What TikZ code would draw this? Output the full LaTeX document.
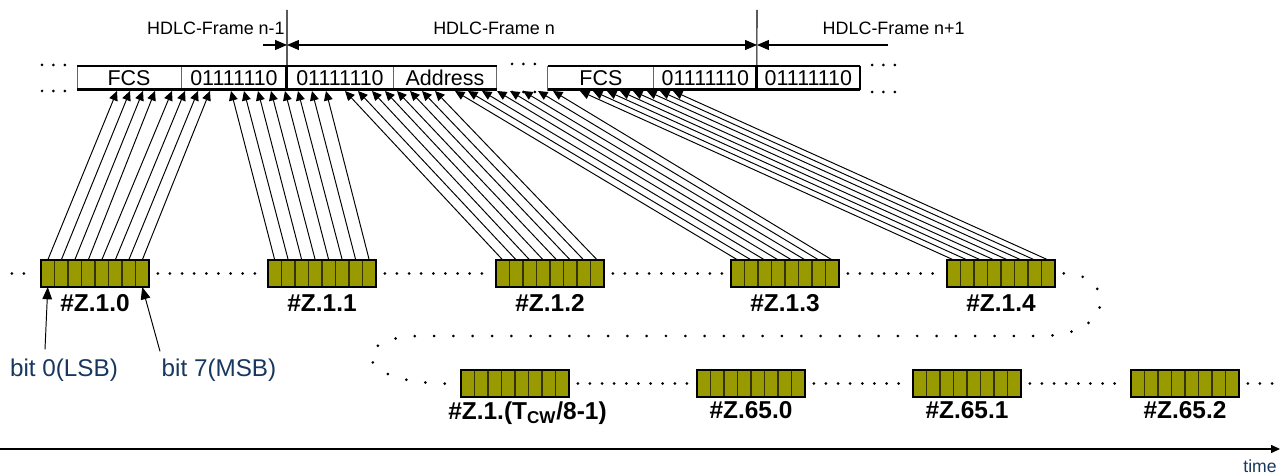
\documentclass[tikz,border=0pt]{standalone}
\usepackage{fontspec}
\setmainfont{Liberation Sans}
\usetikzlibrary{arrows.meta,positioning,calc}
\definecolor{Olive}{HTML}{999900}
\definecolor{CellEdge}{HTML}{333300}
\definecolor{Navy}{HTML}{17375E}
\definecolor{Grey60}{HTML}{666666}

\begin{document}
\begin{tikzpicture}[x=0.02cm, y=-0.02cm,
    field/.style={draw=Grey60, line width=0.5pt, minimum height=0.48cm, inner sep=0pt, outer sep=0pt, font=\fontsize{12.2}{13}\selectfont},
    cell/.style={draw=CellEdge, fill=Olive, line width=0.6pt, minimum width=0.27cm, minimum height=0.54cm, inner sep=0pt, outer sep=0pt},
    bytelabel/.style={font=\fontsize{13.9}{15}\selectfont\bfseries, inner sep=0pt},
    framelabel/.style={font=\fontsize{10.2}{12}\selectfont, inner sep=0pt},
    note/.style={font=\fontsize{13.8}{15}\selectfont, text=Navy, inner sep=0pt},
    bitarrow/.style={-{Triangle[length=5.4pt,width=5pt]}, line width=0.55pt},
    dimline/.style={line width=0.6pt},
    dimarrow/.style={dimline, -{Triangle[length=6.8pt,width=5.7pt]}},
    frameline/.style={line width=1.7pt},
    dots/.style={line width=1.7pt, line cap=round, dash pattern=on 0pt off #1, shorten <=5pt, shorten >=4pt},
    dots/.default=6.9pt,
  ]
  \useasboundingbox (0,0) rectangle (1280,475);

  % frame fields
  \node[field, minimum width=2.08cm] (fcsA) at (129,78) {FCS};
  \node[field, minimum width=2.12cm, right=0pt of fcsA] (flagA) {01111110};
  \node[field, minimum width=2.12cm, right=0pt of flagA] (flagB) {01111110};
  \node[field, minimum width=2.08cm, right=0pt of flagB] (addr) {Address};
  \node[field, minimum width=2.12cm, right=1.02cm of addr] (fcsB) {FCS};
  \node[field, minimum width=2.06cm, right=0pt of fcsB] (flagC) {01111110};
  \node[field, minimum width=2.06cm, right=0pt of flagC] (flagD) {01111110};

  \draw[frameline] (fcsA.north west) -- (addr.north east);
  \draw[frameline] (fcsA.south west) -- (addr.south east);
  \draw[frameline] (fcsB.north west) -- (flagD.north east);
  \draw[frameline] (fcsB.south west) -- (flagD.south east);
  \draw[frameline] (flagA.south east) -- (flagA.north east);
  \draw[frameline] (flagC.south east) -- (flagC.north east);
  \draw[line width=1.2pt] (flagD.south east) -- (flagD.north east);

  \draw[dots=6.5pt, shorten <=0pt, shorten >=0pt] (42,65) -- (66,65);
  \draw[dots=6.5pt, shorten <=0pt, shorten >=0pt] (42,91) -- (66,91);
  \draw[dots=6.5pt, shorten <=0pt, shorten >=0pt] (512,64) -- (536,64);
  \draw[dots=6.5pt, shorten <=0pt, shorten >=0pt] (512,92) -- (536,92);
  \draw[dots=6.5pt, shorten <=0pt, shorten >=0pt] (872,65) -- (896,65);
  \draw[dots=6.5pt, shorten <=0pt, shorten >=0pt] (872,92) -- (896,92);

  % frame borders and lengths
  \coordinate (splitA) at (287,10);
  \coordinate (splitB) at (757,10);
  \draw[dimline] (flagA.north east) -- (splitA);
  \draw[dimline] (flagC.north east) -- (splitB);
  \coordinate (dimL) at (263,45);
  \coordinate (dimA) at (287,45);
  \coordinate (dimB) at (757,45);
  \coordinate (dimR) at (888,45);
  \draw[dimarrow] (dimL) -- (dimA);
  \draw[dimarrow, {Triangle[length=6.8pt,width=5.7pt]}-{Triangle[length=6.8pt,width=5.7pt]}] (dimA) -- (dimB);
  \draw[dimarrow, {Triangle[length=6.8pt,width=5.7pt]}-] (dimB) -- (dimR);
  \node[framelabel, anchor=east] (lblA) at (285,28) {HDLC-Frame n-1};
  \node[framelabel] (lblB) at (494,28) {HDLC-Frame n};
  \node[framelabel, anchor=east] (lblC) at (965,28) {HDLC-Frame n+1};

  % bytes
  \foreach \b/\x/\y in {zA/41/273.5, zB/268/273.5, zC/496/273.5, zD/731/273.5, zE/947/273.5,
                        zT/461/383.5, zF/697/383.5, zG/913/383.5, zH/1131/383.5} {
    \foreach \i in {0,...,7}
      \node[cell] (\b-\i) at ({\x+13.5*\i+6.75},\y) {};
    \draw[line width=0.8pt] (\b-0.north west) rectangle (\b-7.south east);
  }

  \node[bytelabel, below=0.15cm of zA-3.south east] (lA) {\#Z.1.0};
  \node[bytelabel, below=0.15cm of zB-3.south east] (lB) {\#Z.1.1};
  \node[bytelabel, below=0.15cm of zC-3.south east] (lC) {\#Z.1.2};
  \node[bytelabel, below=0.15cm of zD-3.south east] (lD) {\#Z.1.3};
  \node[bytelabel, below=0.15cm of zE-3.south east] (lE) {\#Z.1.4};
  \node[bytelabel, below=0.09cm of zT-3.south east, xshift=0.25cm] (lT) {\#Z.1.(T\textsubscript{CW}/8-1)};
  \node[bytelabel, below=0.09cm of zF-3.south east] (lF) {\#Z.65.0};
  \node[bytelabel, below=0.09cm of zG-3.south east] (lG) {\#Z.65.1};
  \node[bytelabel, below=0.09cm of zH-3.south east] (lH) {\#Z.65.2};

  % bits into the frame
  \foreach \t [count=\k from 0] in {117,130,143,155,172,185,198,210} {
    \coordinate (zA-in-\k) at (\t,91);
    \draw[bitarrow] (zA-\k.north) -- (zA-in-\k);
  }
  \foreach \t [count=\k from 0] in {231,244,258,271,285,298,312,326} {
    \coordinate (zB-in-\k) at (\t,91);
    \draw[bitarrow] (zB-\k.north) -- (zB-in-\k);
  }
  \foreach \t [count=\k from 0] in {345,358,372,385,397,410,422,435} {
    \coordinate (zC-in-\k) at (\t,91);
    \draw[bitarrow] (zC-\k.north) -- (zC-in-\k);
  }
  \foreach \t [count=\k from 0] in {455,468,482,497,510,523,538,553} {
    \coordinate (zD-in-\k) at (\t,91);
    \draw[bitarrow] (zD-\k.north) -- (zD-in-\k);
  }
  \foreach \t [count=\k from 0] in {580,593,607,620,633,647,660,673} {
    \coordinate (zE-in-\k) at (\t,91);
    \draw[bitarrow] (zE-\k.north) -- (zE-in-\k);
  }

  % bit order
  \node[note] (lsb) at (64,370) {bit 0(LSB)};
  \node[note] (msb) at (219,370) {bit 7(MSB)};
  \draw[bitarrow, -{Triangle[length=7pt,width=5.5pt]}] ([xshift=-0.38cm, yshift=0.18cm]lsb.north) -- (zA-0.south);
  \draw[bitarrow, -{Triangle[length=7pt,width=5.5pt]}] ([xshift=-1.18cm, yshift=0.14cm]msb.north) -- (zA-7.south);

  % byte stream
  \coordinate (headL) at (3,273.5);
  \coordinate (tailR) at (1282,383.5);
  \draw[dots] (headL) -- (zA-0.west);
  \draw[dots] (zA-7.east) -- (zB-0.west);
  \draw[dots] (zB-7.east) -- (zC-0.west);
  \draw[dots] (zC-7.east) -- (zD-0.west);
  \draw[dots] (zD-7.east) -- (zE-0.west);
  \draw[dots=11pt] (zE-7.east) .. controls (1115,273) and (1118,336) .. (1040,336) -- (420,336)
        .. controls (350,336) and (350,385) .. (zT-0.west);
  \draw[dots] (zT-7.east) -- (zF-0.west);
  \draw[dots] (zF-7.east) -- (zG-0.west);
  \draw[dots] (zG-7.east) -- (zH-0.west);
  \draw[dots] (zH-7.east) -- (tailR);

  % time axis
  \coordinate (axisL) at (0,449);
  \coordinate (axisR) at (1280,449);
  \draw[dimarrow, -{Triangle[length=5pt,width=4.5pt]}] (axisL) -- (axisR);
  \node[note, font=\fontsize{10}{12}\selectfont] (timelbl) at (1260,466) {time};
\end{tikzpicture}
\end{document}
